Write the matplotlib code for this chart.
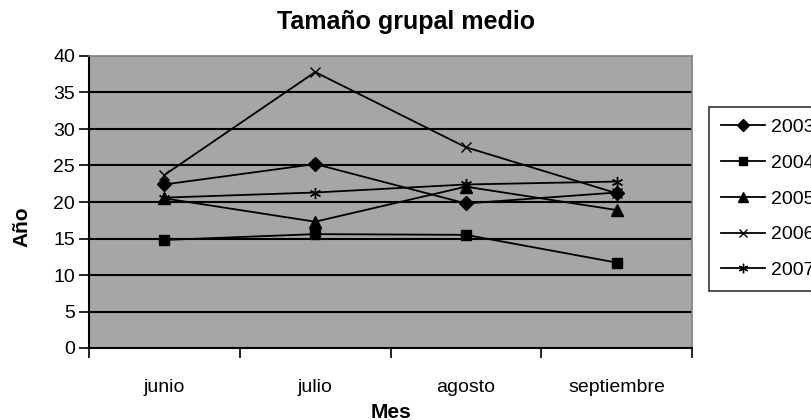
import matplotlib
matplotlib.use("Agg")
import matplotlib.pyplot as plt
from matplotlib import font_manager

meses = ["junio", "julio", "agosto", "septiembre"]
anios = ["2003", "2004", "2005", "2006", "2007"]
v2003 = [22.4, 25.2, 19.8, 21.3]
v2004 = [14.8, 15.6, 15.5, 11.7]
v2005 = [20.5, 17.3, 22.1, 18.9]
v2006 = [23.7, 37.8, 27.5, 21.2]
v2007 = [20.6, 21.3, 22.4, 22.8]
yticks = [0, 5, 10, 15, 20, 25, 30, 35, 40]

# fuente estrecha si existe (el original parece Arial comprimida)
nombres = {f.name for f in font_manager.fontManager.ttflist}
fuente = "Liberation Sans Narrow" if "Liberation Sans Narrow" in nombres else "Liberation Sans"
plt.rcParams["font.family"] = [fuente, "DejaVu Sans"]

fig = plt.figure(figsize=(8.11, 4.2), dpi=100)
ax = fig.add_axes([89 / 811, 1 - 348 / 420, (692 - 89) / 811, (348 - 56) / 420])
ax.set_facecolor("#a6a6a6")

x = list(range(len(meses)))
series = [v2003, v2004, v2005, v2006, v2007]
marcadores = ["D", "s", "^", "x", (6, 2, 0)]
tamanos = [7, 7, 8, 7, 8]
for vals, m, ms, nombre in zip(series, marcadores, tamanos, anios):
    ax.plot(x, vals, color="black", lw=1.3, marker=m, markersize=ms,
            markerfacecolor="black", markeredgecolor="black", markeredgewidth=1.0,
            label=nombre, zorder=3)

ax.set_xlim(-0.5, len(meses) - 0.5)
ax.set_ylim(0, 40)
ax.set_yticks(yticks)
ax.set_yticklabels([str(t) for t in yticks], fontsize=14)
for t in yticks[1:-1]:
    ax.axhline(t, color="black", lw=1.5, zorder=1)

# marcas del eje x entre categorias
ax.set_xticks([i - 0.5 for i in range(len(meses) + 1)])
ax.set_xticklabels([])
ax.set_xticks(x, minor=True)
ax.set_xticklabels(meses, minor=True, fontsize=14)
ax.tick_params(axis="x", which="minor", length=0, pad=22)
ax.tick_params(axis="x", which="major", length=7, width=1.2, direction="out")
ax.tick_params(axis="y", length=7, width=1.2, direction="out", pad=3)

for lado in ["top", "right"]:
    ax.spines[lado].set_color("#808080")
    ax.spines[lado].set_linewidth(1.2)
for lado in ["left", "bottom"]:
    ax.spines[lado].set_color("black")
    ax.spines[lado].set_linewidth(1.5)

fig.text(391 / 811, 1 - 412 / 420, "Mes", ha="center", va="center",
         fontsize=15, fontweight="bold")
fig.text(22 / 811, 1 - 227 / 420, "Año", ha="center", va="center",
         rotation=90, fontsize=15, fontweight="bold")
fig.text(406 / 811, 1 - 22 / 420, "Tamaño grupal medio", ha="center", va="center",
         fontsize=18, fontweight="bold")

# leyenda cortada por el borde derecho, como en el original
leg = fig.legend(loc="upper left", bbox_to_anchor=(709 / 811, 1 - 107 / 420),
                 fontsize=14, frameon=True, fancybox=False, edgecolor="black",
                 handlelength=2.3, labelspacing=0.93, borderpad=0.6,
                 handletextpad=0.3, borderaxespad=0, markerscale=0.85)
leg.get_frame().set_linewidth(1.2)

fig.savefig("out.png", dpi=100, facecolor="white")
